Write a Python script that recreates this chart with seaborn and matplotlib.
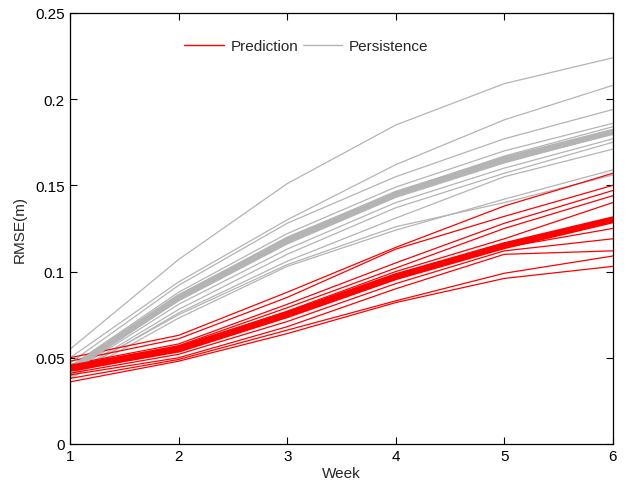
import numpy as np
import pandas as pd
import matplotlib
matplotlib.use("Agg")
import matplotlib.pyplot as plt
import seaborn as sns
from matplotlib.lines import Line2D

weeks = [1, 2, 3, 4, 5, 6]

# Persistence RMSE for each ensemble member (weeks 1-6)
persistence_members = [
    [0.055, 0.107, 0.151, 0.185, 0.209, 0.224],
    [0.050, 0.094, 0.130, 0.162, 0.188, 0.208],
    [0.047, 0.092, 0.128, 0.155, 0.177, 0.194],
    [0.045, 0.088, 0.122, 0.149, 0.170, 0.186],
    [0.043, 0.086, 0.120, 0.146, 0.167, 0.184],
    [0.042, 0.083, 0.116, 0.143, 0.163, 0.180],
    [0.041, 0.081, 0.113, 0.140, 0.160, 0.177],
    [0.040, 0.078, 0.110, 0.137, 0.157, 0.175],
    [0.039, 0.076, 0.106, 0.131, 0.155, 0.171],
    [0.038, 0.073, 0.103, 0.124, 0.142, 0.159],
    [0.040, 0.075, 0.104, 0.126, 0.140, 0.156],
]
persistence_mean = [0.043, 0.085, 0.118, 0.145, 0.165, 0.181]

# Prediction RMSE for each ensemble member (weeks 1-6)
prediction_members = [
    [0.050, 0.063, 0.088, 0.114, 0.138, 0.157],
    [0.048, 0.061, 0.085, 0.113, 0.132, 0.150],
    [0.046, 0.058, 0.081, 0.105, 0.128, 0.147],
    [0.045, 0.057, 0.079, 0.102, 0.125, 0.144],
    [0.044, 0.056, 0.077, 0.100, 0.119, 0.140],
    [0.042, 0.054, 0.074, 0.096, 0.114, 0.125],
    [0.041, 0.052, 0.071, 0.093, 0.112, 0.119],
    [0.040, 0.050, 0.068, 0.090, 0.110, 0.112],
    [0.038, 0.049, 0.066, 0.083, 0.099, 0.109],
    [0.036, 0.048, 0.064, 0.082, 0.096, 0.103],
]
prediction_mean = [0.044, 0.055, 0.075, 0.097, 0.115, 0.130]

y_ticks = [0, 0.05, 0.1, 0.15, 0.2, 0.25]
y_tick_labels = ["0", "0.05", "0.1", "0.15", "0.2", "0.25"]

GRAY = "#b4b4b4"
RED = "#ff0000"


def to_long(members):
    rows = []
    for i, vals in enumerate(members):
        for w, v in zip(weeks, vals):
            rows.append({"member": i, "week": w, "rmse": v})
    return pd.DataFrame(rows)


sns.set_theme(style="ticks")
plt.rcParams["font.family"] = ["Liberation Sans", "DejaVu Sans"]

fig = plt.figure(figsize=(6.26, 4.81), dpi=100)
ax = fig.add_axes([0.112, 0.075, 0.867, 0.896])

pers_df = to_long(persistence_members)
pred_df = to_long(prediction_members)

sns.lineplot(data=pers_df, x="week", y="rmse", units="member", estimator=None,
             color=GRAY, linewidth=0.9, ax=ax, legend=False)
sns.lineplot(data=pred_df, x="week", y="rmse", units="member", estimator=None,
             color=RED, linewidth=0.9, ax=ax, legend=False)
sns.lineplot(x=weeks, y=persistence_mean, color=GRAY, linewidth=4.5, ax=ax)
sns.lineplot(x=weeks, y=prediction_mean, color=RED, linewidth=5, ax=ax)

ax.set_xlim(1, 6)
ax.set_ylim(0, 0.25)
ax.set_xticks(weeks)
ax.set_xticklabels([str(w) for w in weeks])
ax.set_yticks(y_ticks)
ax.set_yticklabels(y_tick_labels)
ax.set_xlabel("Week", fontsize=11, labelpad=2)
ax.set_ylabel("RMSE(m)", fontsize=11, labelpad=6)

for s in ax.spines.values():
    s.set_visible(True)
    s.set_linewidth(0.9)
    s.set_color("black")
ax.tick_params(direction="in", top=True, right=True, length=5, width=0.8,
               labelsize=11, colors="black", pad=4)

handles = [Line2D([], [], color=RED, linewidth=1.0),
           Line2D([], [], color=GRAY, linewidth=1.0)]
ax.legend(handles, ["Prediction", "Persistence"], ncol=2, frameon=False,
          loc="upper center", bbox_to_anchor=(0.435, 0.971), fontsize=11,
          handlelength=2.6, columnspacing=0.3, handletextpad=0.4)

fig.savefig("out.png", dpi=100)
